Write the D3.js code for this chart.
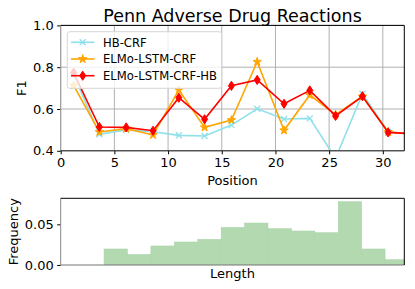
<!DOCTYPE html>
<html>
<head>
<meta charset="utf-8">
<script src="https://cdn.jsdelivr.net/npm/d3@7"></script>
<style>
  body { margin: 0; background: #fff; }
  svg { display: block; font-family: "DejaVu Sans", sans-serif; }
</style>
</head>
<body>
<div id="chart"></div>
<script>
// positions where F1 was measured
const positions = [1.2, 3.6, 6.1, 8.6, 11.0, 13.4, 15.9, 18.3, 20.8, 23.2, 25.6, 28.1, 30.5, 33.0];
const hbCrf = [0.765, 0.479, 0.50, 0.491, 0.474, 0.471, 0.523, 0.601, 0.552, 0.555, 0.364, 0.673, 0.49, 0.48];
const elmoCrf = [0.713, 0.49, 0.506, 0.476, 0.691, 0.512, 0.547, 0.826, 0.498, 0.667, 0.573, 0.66, 0.49, 0.48];
const elmoCrfHb = [0.774, 0.514, 0.512, 0.496, 0.654, 0.551, 0.711, 0.739, 0.625, 0.689, 0.567, 0.661, 0.488, 0.481];

const xTicks = [0, 5, 10, 15, 20, 25, 30];
const yTicks = [0.4, 0.6, 0.8, 1.0];

// length histogram (bin start, frequency)
const binStarts = [2, 3, 4, 5, 6, 7, 8, 9, 10, 11, 12, 13, 14];
const binFreq = [0.0197, 0.0131, 0.0234, 0.0283, 0.0316, 0.0463, 0.0516, 0.0447, 0.0418, 0.0398, 0.0779, 0.0197, 0.0066];
const histTicks = [0, 0.05];

const series = [
    { name: "HB-CRF", values: hbCrf, color: "#8ee0ea", marker: "x" },
    { name: "ELMo-LSTM-CRF", values: elmoCrf, color: "#ffa500", marker: "star" },
    { name: "ELMo-LSTM-CRF-HB", values: elmoCrfHb, color: "#ff0000", marker: "diamond" }
];

const svg = d3.select("#chart").append("svg")
    .attr("width", 415)
    .attr("height", 289);

const left = 60.7, right = 404.3;

const x = d3.scaleLinear().domain([0, 32]).range([left, right]);
const y = d3.scaleLinear().domain([0.4, 1.0]).range([150.8, 25.4]);

svg.append("clipPath").attr("id", "clipTop")
    .append("rect")
    .attr("x", left).attr("y", y(1.0))
    .attr("width", right - left).attr("height", y(0.4) - y(1.0));

// grid
const grid = svg.append("g");
grid.selectAll(".gx").data(xTicks).enter().append("line")
    .attr("x1", d => x(d)).attr("x2", d => x(d))
    .attr("y1", y(0.4)).attr("y2", y(1.0))
    .attr("stroke", "#b0b0b0").attr("stroke-width", 1);
grid.selectAll(".gy").data(yTicks).enter().append("line")
    .attr("x1", left).attr("x2", right)
    .attr("y1", d => y(d)).attr("y2", d => y(d))
    .attr("stroke", "#b0b0b0").attr("stroke-width", 1);

function markerPath(type) {
    if (type === "x") return "M-3,-3L3,3M-3,3L3,-3";
    if (type === "diamond") return "M0,-4.6L3,0L0,4.6L-3,0Z";
    return d3.symbol(d3.symbolStar, 22)();
}

const plot = svg.append("g").attr("clip-path", "url(#clipTop)");
const line = d3.line().x((d, i) => x(positions[i])).y(d => y(d));

series.forEach(s => {
    plot.append("path")
        .datum(s.values)
        .attr("d", line)
        .attr("fill", "none")
        .attr("stroke", s.color)
        .attr("stroke-width", 1.6);
    plot.selectAll(null).data(s.values).enter().append("path")
        .attr("transform", (d, i) => `translate(${x(positions[i])},${y(d)})`)
        .attr("d", markerPath(s.marker))
        .attr("fill", s.color)
        .attr("stroke", s.color)
        .attr("stroke-width", s.marker === "x" ? 1.3 : 1);
});

// axes
const xAxis = svg.append("g")
    .attr("transform", `translate(0,${y(0.4)})`)
    .call(d3.axisBottom(x).tickValues(xTicks).tickSize(3.5).tickPadding(3.5).tickFormat(d3.format("d")));
const yAxis = svg.append("g")
    .attr("transform", `translate(${left},0)`)
    .call(d3.axisLeft(y).tickValues(yTicks).tickSize(3.5).tickPadding(3.5).tickFormat(d3.format(".1f")));
[xAxis, yAxis].forEach(a => {
    a.select(".domain").remove();
    a.selectAll("text").attr("font-size", 13).attr("fill", "#000").attr("font-family", "DejaVu Sans");
    a.selectAll(".tick line").attr("stroke", "#000");
});

// spines
svg.append("line").attr("x1", left).attr("x2", left).attr("y1", y(1.0)).attr("y2", y(0.4))
    .attr("stroke", "#999").attr("stroke-width", 1);
svg.append("line").attr("x1", left).attr("x2", right).attr("y1", y(0.4)).attr("y2", y(0.4))
    .attr("stroke", "#222").attr("stroke-width", 1);
svg.append("line").attr("x1", left).attr("x2", right).attr("y1", y(1.0)).attr("y2", y(1.0))
    .attr("stroke", "#000").attr("stroke-width", 1);
svg.append("line").attr("x1", right).attr("x2", right).attr("y1", y(1.0)).attr("y2", y(0.4))
    .attr("stroke", "#000").attr("stroke-width", 1);

svg.append("text")
    .attr("x", (left + right) / 2).attr("y", 21.5)
    .attr("text-anchor", "middle").attr("font-size", 17.5)
    .text("Penn Adverse Drug Reactions");

svg.append("text")
    .attr("x", (left + right) / 2).attr("y", 185)
    .attr("text-anchor", "middle").attr("font-size", 13)
    .text("Position");

svg.append("text")
    .attr("transform", `translate(26,${(y(0.4) + y(1.0)) / 2}) rotate(-90)`)
    .attr("text-anchor", "middle").attr("font-size", 13)
    .text("F1");

// legend
const legend = svg.append("g");
legend.append("rect")
    .attr("x", 67.3).attr("y", 31.7)
    .attr("width", 154.4).attr("height", 56.6)
    .attr("rx", 2.5)
    .attr("fill", "#fff").attr("fill-opacity", 0.8)
    .attr("stroke", "#d6d6d6").attr("stroke-width", 1);
series.forEach((s, i) => {
    const ly = 42.3 + i * 16.7;
    legend.append("line")
        .attr("x1", 71).attr("x2", 94.5).attr("y1", ly).attr("y2", ly)
        .attr("stroke", s.color).attr("stroke-width", 1.6);
    legend.append("path")
        .attr("transform", `translate(82.7,${ly})`)
        .attr("d", markerPath(s.marker))
        .attr("fill", s.color).attr("stroke", s.color)
        .attr("stroke-width", s.marker === "x" ? 1.3 : 1);
    legend.append("text")
        .attr("x", 103).attr("y", ly + 4.2)
        .attr("font-size", 11.6)
        .text(s.name);
});

// histogram
const hx = d3.scaleLinear().domain([0.15, 14.82]).range([left, right]);
const hy = d3.scaleLinear().domain([0, 0.082]).range([265, 198.3]);

svg.append("clipPath").attr("id", "clipHist")
    .append("rect")
    .attr("x", left).attr("y", hy(0.082))
    .attr("width", right - left).attr("height", hy(0) - hy(0.082));

svg.append("g").attr("clip-path", "url(#clipHist)")
    .selectAll("rect").data(binStarts).enter().append("rect")
    .attr("x", d => hx(d))
    .attr("width", d => hx(d + 1) - hx(d))
    .attr("y", (d, i) => hy(binFreq[i]))
    .attr("height", (d, i) => hy(0) - hy(binFreq[i]))
    .attr("fill", "#b3d9b1")
    .attr("stroke", "#abd3a9").attr("stroke-width", 0.5);

const hyAxis = svg.append("g")
    .attr("transform", `translate(${left},0)`)
    .call(d3.axisLeft(hy).tickValues(histTicks).tickSize(3.5).tickPadding(3.5).tickFormat(d3.format(".2f")));
hyAxis.select(".domain").remove();
hyAxis.selectAll("text").attr("font-size", 13).attr("fill", "#000").attr("font-family", "DejaVu Sans");

svg.append("line").attr("x1", left).attr("x2", left).attr("y1", hy(0.082)).attr("y2", hy(0))
    .attr("stroke", "#888").attr("stroke-width", 1);
svg.append("line").attr("x1", left).attr("x2", right).attr("y1", hy(0)).attr("y2", hy(0))
    .attr("stroke", "#777").attr("stroke-width", 1.2);
svg.append("line").attr("x1", left).attr("x2", right).attr("y1", hy(0.082)).attr("y2", hy(0.082))
    .attr("stroke", "#000").attr("stroke-width", 1);
svg.append("line").attr("x1", right).attr("x2", right).attr("y1", hy(0.082)).attr("y2", hy(0))
    .attr("stroke", "#000").attr("stroke-width", 1);

svg.append("text")
    .attr("x", (left + right) / 2).attr("y", 278)
    .attr("text-anchor", "middle").attr("font-size", 13)
    .text("Length");

svg.append("text")
    .attr("transform", `translate(18,${(hy(0) + hy(0.082)) / 2}) rotate(-90)`)
    .attr("text-anchor", "middle").attr("font-size", 13)
    .text("Frequency");
</script>
</body>
</html>
